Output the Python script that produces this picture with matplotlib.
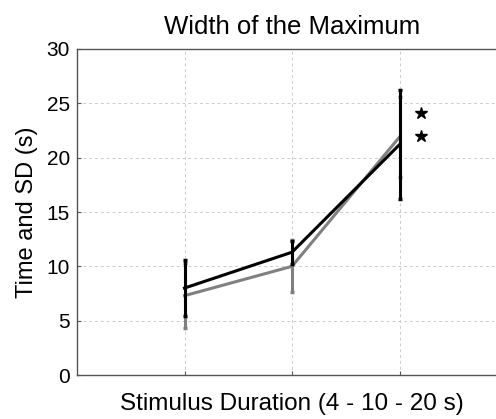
import matplotlib
matplotlib.use("Agg")
import matplotlib.pyplot as plt

plt.rcParams['font.family'] = ['Liberation Sans', 'DejaVu Sans']

durations = [1, 2, 3]
gray_mean = [7.3, 10.0, 21.9]
gray_sd = [3.0, 2.4, 3.7]
black_mean = [8.0, 11.3, 21.2]
black_sd = [2.6, 1.05, 5.0]
star_x = [3.2, 3.2]
star_y = [24.1, 22.0]

fig = plt.figure(figsize=(4.96, 4.19), dpi=100)
ax = fig.add_axes([77 / 496, 44 / 419, 430 / 496, 326 / 419])

ax.errorbar(durations, gray_mean, yerr=gray_sd, color='#808080', lw=2.2,
            elinewidth=2.2, capsize=1.5, capthick=2.5, zorder=3)
ax.errorbar(durations, black_mean, yerr=black_sd, color='black', lw=2.2,
            elinewidth=2.2, capsize=1.5, capthick=2.5, zorder=4)
ax.plot(star_x, star_y, linestyle='none', marker='*', color='black',
        markersize=9, zorder=5)

ax.set_xlim(0, 4)
ax.set_ylim(0, 30)
ax.set_xticks(durations)
ax.set_xticklabels([])
ax.set_yticks(range(0, 31, 5))
ax.tick_params(axis='both', direction='in', length=3, labelsize=15,
               color='#555555', pad=5)
ax.grid(True, linestyle=(0, (3, 3)), color='#cccccc', linewidth=0.7)
for side in ['left', 'bottom', 'top', 'right']:
    ax.spines[side].set_color('#555555')
    ax.spines[side].set_linewidth(1.0)

ax.set_title('Width of the Maximum', fontsize=18.5, pad=11)
ax.set_xlabel('Stimulus Duration (4 - 10 - 20 s)', fontsize=17.5, labelpad=8)
ax.set_ylabel('Time and SD (s)', fontsize=17, labelpad=6)

fig.savefig('out.png', dpi=100)
